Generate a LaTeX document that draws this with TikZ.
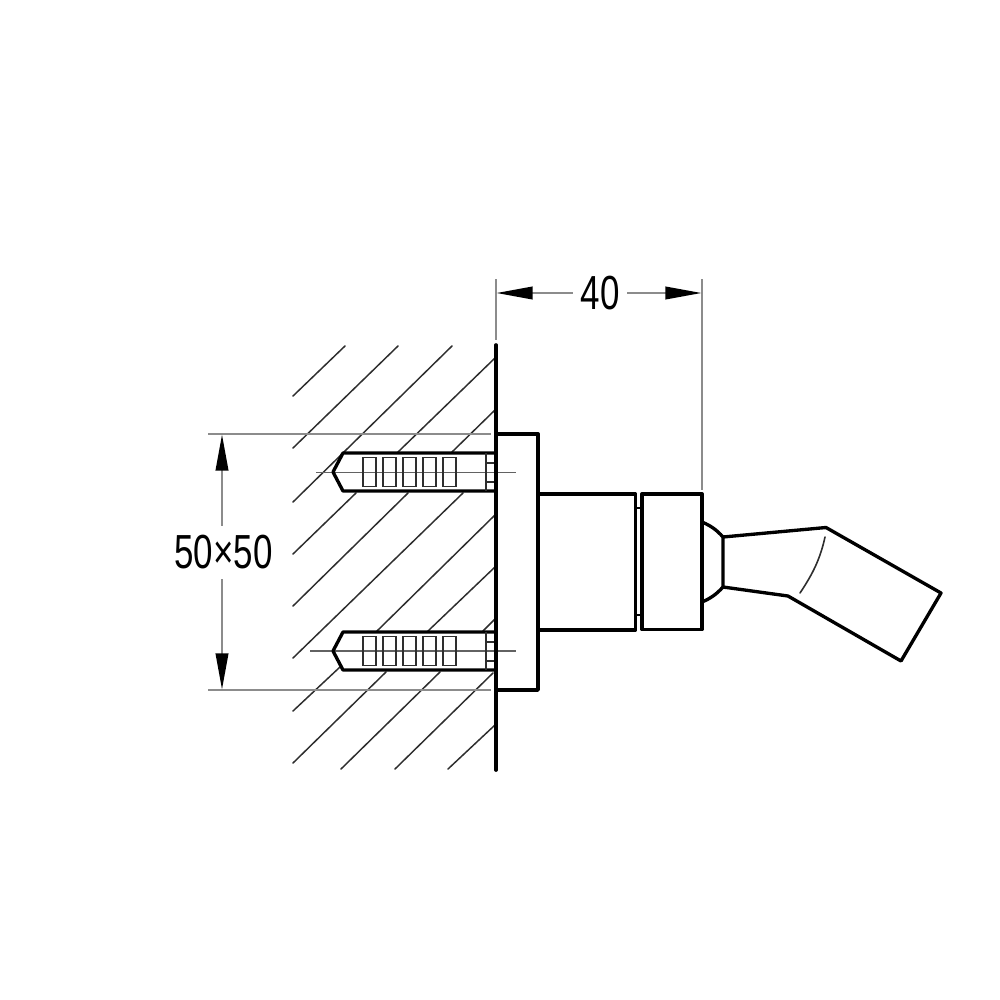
\documentclass[tikz,border=0pt]{standalone}
\usepackage{fontspec}
\setmainfont{Liberation Sans}
\usetikzlibrary{arrows.meta}
\definecolor{hatchc}{gray}{0.18}
\definecolor{dimc}{gray}{0.55}
\tikzset{
  heavy/.style={draw=black,line width=0.95pt,line join=round,line cap=round},
  hatchline/.style={draw=hatchc,line width=0.42pt,line cap=round},
  dimline/.style={draw=dimc,line width=0.6pt},
  centreline/.style={draw=dimc!70!black,line width=0.42pt},
  cellbox/.style={draw=hatchc,line width=0.45pt},
  dimtip/.tip={Stealth[length=3.6mm,width=1.25mm,inset=0pt,color=black]},
  dimarrow/.style={draw=dimc,line width=0.6pt},
  dimtext/.style={inner sep=0pt,font=\fontsize{13.6pt}{14pt}\selectfont}
}
\newcommand{\condensed}[1]{\scalebox{0.73}[1]{#1}}
\begin{document}
\begin{tikzpicture}[x=0.01cm,y=-0.01cm]
\useasboundingbox[fill=white] (0,0) rectangle (1000,1000);
% hatching
\foreach \a/\b/\c/\d in {
 293/396/345/346, 293/448/398/346, 293/502/452/346, 398/452/495/358, 452/452/495/410,
 293/554/356/493, 293/606/408/493, 293/658/463/493, 377/631/495/515, 428/631/495/567, 483/631/495/619,
 293/711/340/667, 293/763/386/672, 341/769/440/672, 395/769/493/673, 448/769/495/725}
  \draw[hatchline] (\a,\b) -- (\c,\d);
% extension lines
\draw[dimline] (208,434) -- (491,434);
\draw[dimline] (208,690) -- (491,690);
\draw[dimline] (496,279) -- (496,340);
\draw[dimline] (702,279) -- (702,490);
% centre lines
\draw[centreline] (316,472.5) -- (516,472.5);
\draw[centreline] (310,651) -- (516,651);
% plugs
\foreach \yc in {472,651} {
  \draw[heavy] (495,\yc-19) -- (343,\yc-19) -- (333,\yc) -- (343,\yc+19) -- (495,\yc+19);
  \draw[cellbox] (486,\yc-19) -- (486,\yc+19) (486,\yc-9) -- (496,\yc-9) (486,\yc+10) -- (496,\yc+10);
  \foreach \xa in {363,383,403,423,443}
    \draw[cellbox] (\xa,\yc-14.5) rectangle (\xa+13,\yc+14.5);
}
% wall and flange
\draw[heavy,line width=1.05pt] (496,345) -- (496,770);
\draw[heavy] (496,434) -- (538,434) -- (538,690) -- (496,690);
% stem and ring
\draw[heavy] (538,494) -- (635.5,494) -- (635.5,630) -- (538,630);
\draw[heavy,line width=0.8pt] (635.5,508) -- (642,508) (635.5,615) -- (642,615);
\draw[heavy] (642,494) rectangle (702,629.5);
% ball joint and handle
\draw[heavy] (702,522) to[bend left=12] (723,537) -- (723,587) to[bend left=12] (702,602);
\draw[heavy] (723,537) -- (826,527.5) -- (941,593) -- (901,661) -- (788,596) -- (723,587);
\draw[hatchline,line width=0.45pt] (825,537) .. controls (820,560) and (812,575) .. (800,593);
% dimensions
\coordinate (dimTopL) at (496.5,293);
\coordinate (dimTopR) at (701.5,293);
\coordinate (dimLeftT) at (222,434.5);
\coordinate (dimLeftB) at (222,689.5);
\node[dimtext,minimum width=0.53cm] (forty) at (600,293.5) {\condensed{40}};
\node[dimtext,minimum height=0.52cm] (fifty) at (223.5,552.5) {\condensed{50×50}};
\draw[dimarrow,{dimtip}-] (dimTopL) -- (dimTopL -| forty.west);
\draw[dimarrow,-{dimtip}] (dimTopR -| forty.east) -- (dimTopR);
\draw[dimarrow,{dimtip}-] (dimLeftT) -- (dimLeftT |- fifty.north);
\draw[dimarrow,-{dimtip}] (dimLeftB |- fifty.south) -- (dimLeftB);
\end{tikzpicture}
\end{document}
